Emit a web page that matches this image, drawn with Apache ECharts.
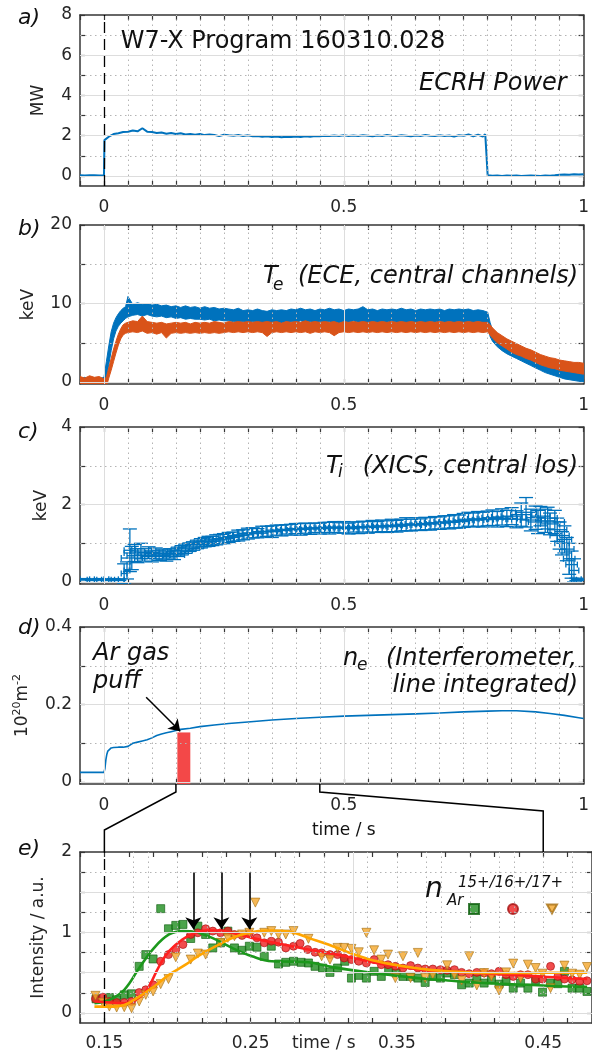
<!DOCTYPE html>
<html>
<head>
<meta charset="utf-8">
<script src="https://cdn.jsdelivr.net/npm/echarts@6/dist/echarts.min.js"></script>
<style>
  html, body { margin: 0; padding: 0; background: #ffffff; }
  #chart { width: 592px; height: 1058px; }
</style>
</head>
<body>
<div id="chart"></div>
<script>
// ---------------- a) ECRH heating power (MW) ----------------
const pwrTime = [-0.05,-0.04,-0.03,-0.02,-0.01,0,0.001,0.005,0.01,0.015,0.02,
  0.03,0.04,0.05,0.06,0.07,0.08,0.09,0.1,0.11,0.12,0.13,0.14,0.15,0.16,0.17,0.18,0.19,0.2,0.21,0.22,
  0.23,0.24,0.25,0.26,0.27,0.28,0.29,0.3,0.31,0.32,0.33,0.34,0.35,0.36,0.37,0.38,0.39,0.4,0.41,0.42,
  0.43,0.44,0.45,0.46,0.47,0.48,0.49,0.5,0.51,0.52,0.53,0.54,0.55,0.56,0.57,0.58,0.59,0.6,0.61,0.62,
  0.63,0.64,0.65,0.66,0.67,0.68,0.69,0.7,0.71,0.72,0.73,0.74,0.75,0.76,0.77,0.78,0.79,0.795,0.799,
  0.8,0.81,0.82,0.83,0.84,0.85,0.86,0.87,0.88,0.89,0.9,0.91,0.92,0.93,0.94,0.95,0.96,0.97,0.98,0.99,1];
const pwrValue = [0.03,0.02,0.04,0.03,0.02,0.03,1.78,1.86,1.95,2.02,2.08,
  2.12,2.18,2.2,2.26,2.22,2.37,2.2,2.18,2.14,2.16,2.1,2.13,2.09,2.12,2.06,2.08,2.05,2.09,2.03,2.06,
  2.04,1.98,2.05,2.02,2.0,2.03,1.99,2.02,1.97,1.99,1.95,1.97,1.93,1.96,1.92,1.95,1.93,1.96,1.94,1.97,
  1.95,1.99,1.97,2.0,1.98,2.01,1.99,2.02,1.99,2.01,1.98,2.02,2.0,1.97,2.01,1.99,2.03,2.0,1.98,2.02,
  2.0,1.97,2.01,1.99,2.03,2.0,1.98,2.02,1.99,2.01,1.96,2.02,2.0,2.06,1.97,2.05,1.96,2.07,2.0,
  0.03,0.01,0.02,0.0,0.02,0.01,0.02,0.0,0.01,0.02,0.01,0.0,0.02,0.01,0.03,0.06,0.07,0.06,0.08,0.07,0.08];

// ---------------- b) electron temperature, ECE central channels (keV) ----------------
const teTime = [-0.05,-0.04,-0.03,-0.02,-0.01,0,0.005,0.01,0.015,0.02,0.025,0.03,0.035,0.04,0.045,
  0.05,0.06,0.07,0.08,0.09,0.1,0.11,0.12,0.13,0.14,0.15,0.16,0.17,0.18,0.19,0.2,0.21,0.22,0.23,0.24,
  0.25,0.26,0.27,0.28,0.29,0.3,0.31,0.32,0.33,0.34,0.35,0.36,0.37,0.38,0.39,0.4,0.41,0.42,0.43,0.44,
  0.45,0.46,0.47,0.48,0.49,0.5,0.51,0.52,0.53,0.54,0.55,0.56,0.57,0.58,0.59,0.6,0.61,0.62,0.63,0.64,
  0.65,0.66,0.67,0.68,0.69,0.7,0.71,0.72,0.73,0.74,0.75,0.76,0.77,0.78,0.79,0.8,0.805,
  0.81,0.82,0.83,0.84,0.85,0.86,0.87,0.88,0.89,0.9,0.91,0.92,0.93,0.94,0.95,0.96,0.97,0.98,0.99,1];
const teBlueHigh = [0.4,0.6,0.3,0.5,0.4,0.6,2.6,4.6,6.4,7.5,8.2,8.7,9.1,9.4,9.6,
  10.9,9.9,10.1,9.9,10.0,9.8,9.9,9.7,9.8,9.6,9.7,9.5,9.7,9.5,9.6,9.4,9.6,9.4,9.5,9.3,
  9.4,9.3,9.2,9.4,9.1,9.2,9.1,9.3,9.1,9.0,9.2,9.1,9.2,9.1,9.3,9.2,9.4,9.2,9.3,9.1,
  9.3,9.2,9.4,9.2,9.3,9.1,9.3,9.2,9.3,9.6,9.2,9.3,9.1,9.3,9.2,9.3,9.2,9.4,9.2,9.3,
  9.1,9.3,9.2,9.3,9.2,9.3,9.1,9.3,9.2,9.3,9.2,9.3,9.1,9.2,9.1,8.9,7.6,
  6.6,5.8,5.3,4.9,4.6,4.3,4.0,3.7,3.4,3.1,2.8,2.6,2.4,2.2,2.0,1.9,1.7,1.6,1.5,1.4];
const teBlueLow = [-0.2,-0.3,-0.2,-0.3,-0.2,-0.1,0.6,2.2,4.0,5.5,6.5,7.1,7.5,7.8,8.1,
  8.3,8.5,8.6,8.4,8.6,8.4,8.3,8.4,8.2,8.3,8.1,8.2,8.0,8.1,8.0,8.0,7.9,8.0,7.8,7.9,
  7.8,7.8,7.7,7.6,7.7,7.5,7.7,7.6,7.4,7.6,7.5,7.6,7.5,7.7,7.7,7.6,7.8,7.6,7.7,7.5,
  7.7,7.6,7.7,7.4,7.5,7.7,7.6,7.8,7.6,7.7,7.5,7.7,7.6,7.7,7.6,7.8,7.6,7.7,7.3,7.7,
  7.6,7.7,7.5,7.7,7.6,7.8,7.6,7.7,7.6,7.7,7.5,7.7,7.6,7.7,7.6,7.5,5.8,
  5.2,4.5,4.0,3.6,3.3,3.0,2.7,2.4,2.1,1.8,1.5,1.2,1.0,0.8,0.6,0.4,0.3,0.2,0.1,0.0];
const teOrangeHigh = [0.7,0.5,0.8,0.6,0.7,0.4,0.6,1.8,3.0,4.2,5.2,6.1,6.8,7.3,7.5,
  7.6,7.8,7.7,8.4,7.7,7.6,7.5,7.6,7.4,7.5,7.6,7.5,7.6,7.4,7.6,7.5,7.6,7.5,7.7,7.6,
  7.5,7.7,7.6,7.7,7.6,7.7,7.6,7.7,7.6,7.7,7.6,7.7,7.5,7.7,7.6,7.7,7.6,7.8,7.6,7.7,
  7.6,7.7,7.6,7.7,7.5,7.7,7.6,7.7,7.6,7.7,7.6,7.7,7.6,7.7,7.6,7.7,7.6,7.7,7.6,7.7,
  7.6,7.7,7.6,7.7,7.6,7.7,7.6,7.7,7.6,7.7,7.6,7.7,7.6,7.7,7.6,7.6,7.3,
  6.9,6.3,5.9,5.5,5.2,4.9,4.6,4.3,4.1,3.8,3.5,3.3,3.1,3.0,2.8,2.7,2.6,2.5,2.5,2.4];
const teOrangeLow = [-0.6,-0.8,-0.5,-0.7,-0.6,-0.9,-0.6,0.5,1.5,2.6,3.7,4.7,5.5,6.0,6.2,
  6.3,6.4,6.3,6.5,6.2,6.3,6.1,6.3,5.6,6.2,6.3,6.2,6.3,6.2,6.3,6.2,6.3,6.2,6.3,6.2,
  6.3,6.4,6.3,6.4,6.3,6.4,6.3,6.4,6.3,5.8,6.3,6.4,6.3,6.4,6.3,6.4,6.3,6.4,6.2,6.4,
  6.3,6.4,6.3,5.9,6.3,6.4,6.3,6.4,6.3,6.4,6.3,6.4,6.3,6.4,6.3,6.4,6.3,6.4,6.3,6.4,
  6.3,6.4,6.3,6.4,6.3,6.4,6.3,6.4,6.3,6.4,6.3,6.4,6.3,6.4,6.3,6.4,6.0,
  5.6,5.0,4.6,4.2,3.8,3.5,3.3,3.0,2.8,2.5,2.2,2.0,1.8,1.7,1.5,1.4,1.3,1.2,1.1,1.0];

// ---------------- c) ion temperature, XICS central line of sight (keV) ----------------
const tiTime = [-0.04,-0.025,-0.01,0.005,0.02,0.032,0.042,0.048,0.054,
  0.058,0.064,0.07,0.077,0.085,0.093,0.1,0.108,0.115,0.123,0.13,0.138,0.146,0.154,0.162,0.17,0.178,0.186,0.194,
  0.202,0.21,0.218,0.226,0.234,0.242,0.25,
  0.26,0.27,0.28,0.29,0.3,0.31,0.32,0.33,0.34,0.35,0.36,0.37,0.38,0.39,0.4,0.41,0.42,0.43,0.44,0.45,
  0.46,0.47,0.48,0.49,0.5,0.51,0.52,0.53,0.54,0.55,0.56,0.57,0.58,0.59,0.6,0.61,0.62,0.63,0.64,0.65,
  0.66,0.67,0.68,0.69,0.7,0.71,0.72,0.73,0.74,0.75,0.76,0.77,0.78,0.79,
  0.8,0.81,0.82,0.83,0.84,0.85,0.86,0.87,0.88,0.89,
  0.9,0.905,0.91,0.92,0.925,0.93,0.94,0.945,0.95,0.955,0.96,0.965,0.97,0.975,0.98,0.985,0.995];
const tiValue = [0.07,0.06,0.07,0.06,0.07,0.06,0.22,0.3,0.82,
  0.62,0.75,0.68,0.8,0.7,0.76,0.66,0.74,0.69,0.72,0.66,0.74,0.7,0.78,0.82,0.86,0.9,0.93,0.97,
  1.0,1.03,1.05,1.06,1.09,1.11,1.12,
  1.15,1.17,1.2,1.22,1.25,1.27,1.26,1.3,1.31,1.3,1.34,1.33,1.36,1.35,1.38,1.36,1.39,1.37,1.4,1.38,
  1.41,1.39,1.42,1.4,1.41,1.38,1.42,1.4,1.43,1.41,1.44,1.42,1.45,1.43,1.46,1.44,1.47,1.49,1.47,1.5,
  1.48,1.51,1.5,1.53,1.52,1.55,1.54,1.57,1.56,1.59,1.62,1.6,1.63,1.61,
  1.64,1.66,1.62,1.68,1.64,1.7,1.62,1.74,1.8,1.6,
  1.66,1.55,1.7,1.58,1.65,1.5,1.55,1.35,1.2,1.0,1.1,0.85,0.6,0.45,0.3,0.07,0.06];
const tiErr = [0.02,0.02,0.02,0.02,0.02,0.02,0.25,0.22,0.55,
  0.3,0.22,0.18,0.2,0.16,0.15,0.14,0.14,0.13,0.13,0.12,0.12,0.12,0.12,0.12,0.12,0.11,0.11,0.11,
  0.12,0.12,0.13,0.12,0.13,0.12,0.13,
  0.13,0.12,0.14,0.13,0.14,0.13,0.12,0.14,0.13,0.15,0.13,0.14,0.12,0.14,0.13,0.15,0.13,0.14,0.12,0.14,
  0.13,0.15,0.14,0.13,0.15,0.14,0.13,0.15,0.14,0.15,0.15,0.14,0.15,0.15,0.16,0.15,0.15,0.17,0.15,0.16,
  0.15,0.16,0.16,0.16,0.16,0.16,0.17,0.17,0.17,0.18,0.18,0.18,0.19,0.19,
  0.19,0.2,0.2,0.21,0.21,0.22,0.22,0.3,0.38,0.28,
  0.3,0.3,0.25,0.3,0.28,0.28,0.3,0.3,0.35,0.3,0.35,0.3,0.4,0.35,0.3,0.03,0.02];
const tiTimeErr = [0.01,0.01,0.01,0.01,0.01,0.01,0.006,0.006,0.012,
  0.022,0.022,0.022,0.022,0.022,0.022,0.022,0.022,0.022,0.022,0.022,0.022,0.022,0.022,0.022,0.022,0.022,0.022,0.022,
  0.022,0.022,0.022,0.022,0.022,0.022,0.022,
  0.022,0.022,0.022,0.022,0.022,0.022,0.022,0.022,0.022,0.022,0.022,0.022,0.022,0.022,0.022,0.022,0.022,0.022,0.022,0.022,
  0.022,0.022,0.022,0.022,0.022,0.022,0.022,0.022,0.022,0.022,0.022,0.022,0.022,0.022,0.022,0.022,0.022,0.022,0.022,0.022,
  0.022,0.022,0.022,0.022,0.022,0.022,0.022,0.022,0.022,0.022,0.022,0.022,0.022,0.022,
  0.022,0.022,0.022,0.022,0.022,0.022,0.022,0.022,0.022,0.022,
  0.02,0.02,0.02,0.02,0.02,0.02,0.02,0.02,0.02,0.015,0.015,0.015,0.012,0.012,0.01,0.01,0.01];

// ---------------- d) line-integrated electron density (1e20 m^-2) ----------------
const neTime = [-0.05,-0.03,-0.01,0,0.002,0.004,0.006,0.008,0.01,0.015,0.02,0.03,0.04,0.05,0.055,0.06,
  0.07,0.08,0.09,0.1,0.11,0.12,0.13,0.14,0.15,0.16,0.18,0.2,0.23,0.26,0.3,0.35,0.4,0.45,0.5,0.55,0.6,
  0.65,0.7,0.75,0.8,0.83,0.86,0.9,0.93,0.96,0.99,1.0];
const neValue = [0.025,0.025,0.025,0.025,0.035,0.058,0.072,0.08,0.084,0.088,0.089,0.09,0.09,0.092,0.096,0.1,
  0.103,0.106,0.109,0.114,0.12,0.124,0.127,0.13,0.133,0.136,0.139,0.143,0.147,0.151,0.155,0.16,0.164,0.167,0.17,0.172,0.174,
  0.176,0.178,0.181,0.183,0.184,0.184,0.181,0.177,0.172,0.166,0.164];
const puffWindow = [0.153, 0.18];     // Ar gas valve open (s)
const puffLevel = 0.128;              // drawn height of the puff marker
const puffArrowFrom = [0.088, 0.219];
const puffArrowTo = [0.159, 0.131];
const zoomWindow = [0.15, 0.45];      // time range enlarged in panel e

// ---------------- e) Ar ion line intensities (a.u.) ----------------
const ar15Time = [0.1443,0.1534,0.1584,0.1636,0.1686,0.1738,0.1783,0.1833,0.1885,0.1938,0.1988,0.2037,0.209,0.2139,
  0.2192,0.2241,0.2294,0.2344,0.2389,0.2441,0.2491,0.2543,0.2593,0.2641,0.269,0.274,0.2793,
  0.2845,0.2895,0.294,0.2992,0.3042,0.3094,0.3143,0.3189,0.3239,0.3291,0.3344,0.3393,0.3443,0.3495,0.3541,
  0.3593,0.3643,0.3693,0.3745,0.3797,0.3843,0.3893,0.3942,0.3994,0.4046,0.4096,0.4146,0.4198,0.4246,0.4295,
  0.4345,0.4395,0.4448,0.4495,0.455,0.46,0.4645,0.4697,0.4749,0.4799];
const ar15Value = [0.175,0.192,0.163,0.225,0.238,0.579,0.725,0.671,1.296,1.046,1.088,1.1,0.925,1.079,
  0.975,0.808,0.871,1.017,0.808,0.779,0.829,0.817,0.704,0.829,0.608,0.629,0.642,
  0.629,0.621,0.579,0.558,0.504,0.558,0.642,0.433,0.467,0.433,0.517,0.454,0.538,0.496,0.454,
  0.454,0.433,0.379,0.454,0.433,0.496,0.475,0.35,0.371,0.421,0.371,0.413,0.358,0.392,0.308,
  0.371,0.308,0.413,0.258,0.371,0.363,0.517,0.308,0.308,0.267];
const ar16Time = [0.1439,0.1489,0.1534,0.1584,0.1636,0.1686,0.1738,0.1783,0.1833,0.1885,0.1938,0.1988,0.2037,0.209,
  0.2139,0.2192,0.2241,0.2294,0.2344,0.2389,0.2441,0.2491,0.2543,0.2593,0.2641,0.269,0.274,0.2793,
  0.2838,0.289,0.294,0.2985,0.3042,0.3094,0.3139,0.3189,0.3239,0.3291,0.3344,0.3393,0.3439,0.3489,0.3541,
  0.3593,0.3643,0.3693,0.3745,0.3797,0.3843,0.3893,0.3942,0.3994,0.4046,0.4096,0.4146,0.4198,0.4246,0.4295,
  0.4345,0.4395,0.4448,0.4495,0.455,0.46,0.4645,0.4697,0.4749,0.4799];
const ar16Value = [0.175,0.196,0.142,0.129,0.129,0.142,0.254,0.288,0.35,0.642,0.725,0.788,0.85,0.975,
  0.996,1.046,1.017,0.996,1.017,0.975,0.963,0.988,0.933,0.871,0.892,0.879,0.808,0.829,
  0.863,0.788,0.754,0.746,0.725,0.725,0.683,0.663,0.642,0.621,0.663,0.6,0.6,0.579,0.558,
  0.588,0.558,0.546,0.546,0.538,0.529,0.538,0.504,0.488,0.504,0.496,0.488,0.517,0.475,0.454,
  0.475,0.475,0.421,0.421,0.579,0.454,0.421,0.413,0.392,0.4];
const ar17Time = [0.1439,0.1489,0.1534,0.1584,0.1636,0.1686,0.1738,0.1783,0.1833,0.1885,0.1938,0.1988,0.209,
  0.2139,0.2192,0.2294,0.2344,0.2389,0.2441,0.2491,0.2532,0.2593,0.2641,0.269,0.274,0.2793,
  0.2895,0.2985,0.3042,0.3094,0.3139,0.3189,0.3239,0.3291,0.3344,0.3393,0.3439,0.3489,0.3541,0.3593,0.3643,
  0.3693,0.3745,0.3843,0.3893,0.3942,0.3994,0.4046,0.4096,0.4146,0.4198,0.4246,0.4295,0.4345,0.4395,0.4448,
  0.4495,0.455,0.4645,0.4697,0.4749,0.4799];
const ar17Value = [0.213,0.129,0.079,0.067,0.071,0.058,0.142,0.225,0.267,0.358,0.421,0.692,0.663,
  0.738,0.725,0.871,0.933,0.954,0.975,0.996,1.371,0.996,1.017,0.975,0.975,1.017,
  0.921,0.704,0.663,0.808,0.808,0.796,0.754,0.996,0.779,0.663,0.725,0.433,0.704,0.433,0.746,
  0.433,0.475,0.592,0.475,0.404,0.704,0.342,0.496,0.454,0.279,0.504,0.613,0.433,0.6,0.558,
  0.488,0.308,0.588,0.488,0.475,0.571];
const fit15Time = [0.1432,0.1534,0.1636,0.1738,0.184,0.1942,0.2037,0.2124,0.2237,0.2373,0.2509,0.2645,0.2781,
  0.2895,0.3031,0.3167,0.3303,0.3439,0.3576,0.3712,0.3848,0.3984,0.412,0.4256,0.4392,0.4528,0.4664,0.48];
const fit15Value = [0.12,0.163,0.288,0.558,0.808,0.975,1.017,1.004,0.933,0.808,0.704,0.642,0.638,
  0.629,0.579,0.538,0.504,0.475,0.446,0.421,0.404,0.383,0.371,0.358,0.35,0.338,0.329,0.325];
const fit16Time = [0.1432,0.1534,0.1636,0.1693,0.1783,0.1874,0.1942,0.2033,0.2124,0.2192,0.2282,0.2373,0.2509,
  0.2645,0.2781,0.2895,0.3031,0.3167,0.3303,0.3439,0.3576,0.3712,0.3848,0.3984,0.412,0.4256,0.4392,0.4528,0.4664,0.48];
const fit16Value = [0.142,0.129,0.121,0.142,0.267,0.579,0.767,0.913,0.996,1.025,1.025,0.996,0.933,
  0.879,0.829,0.788,0.746,0.696,0.642,0.592,0.558,0.529,0.517,0.504,0.488,0.475,0.463,0.446,0.433,0.421];
const fit17Time = [0.1432,0.1534,0.1636,0.1738,0.184,0.1942,0.2055,0.2146,0.2282,0.2418,0.2554,0.2645,0.2781,
  0.2895,0.3031,0.3167,0.3303,0.3439,0.3576,0.3712,0.3848,0.3984,0.412,0.4256,0.4392,0.4528,0.4664,0.48];
const fit17Value = [0.079,0.079,0.1,0.204,0.329,0.475,0.6,0.713,0.85,0.963,1.017,1.025,1.004,
  0.933,0.85,0.754,0.671,0.613,0.571,0.538,0.517,0.504,0.496,0.496,0.496,0.5,0.5,0.5];
const peakArrowTimes = [0.2108, 0.23, 0.2491];
const peakArrowSpan = [1.746, 1.04];

// ---------------- axis ticks and labels ----------------
const timeTicks = [-0.05,0,0.05,0.1,0.15,0.2,0.25,0.3,0.35,0.4,0.45,0.5,0.55,0.6,0.65,0.7,0.75,0.8,0.85,0.9,0.95,1];
const timeLabels = [0, 0.5, 1];
const timeMajor = [0, 0.5];
const eTickStep = 1 / 60;
const eTicks = [];
for (let k = 8; k <= 29; k++) eTicks.push(k * eTickStep);
const eLabels = [0.15, 0.25, 0.3, 0.35, 0.45];
const eMajor = [19 * eTickStep];

const pwrTicks = [0,1,2,3,4,5,6,7,8],   pwrLabels = [0,2,4,6,8];
const teTicks = [0,5,10,15,20],          teLabels = [0,10,20];
const tiTicks = [0,1,2,3,4],             tiLabels = [0,2,4];
const neTicks = [0,0.1,0.2,0.3,0.4],     neLabels = [0,0.2,0.4];
const arTicks = [0,0.25,0.5,0.75,1,1.25,1.5,1.75,2], arLabels = [0,1,2];

// ---------------- styling ----------------
const FONT = 'DejaVu Sans';
const AXIS_COLOR = '#363636';
const TEXT = '#262626';
const BLUE = '#0072BD', ORANGE = '#D95319';
const GRIDS = [
  {top: 15,  height: 171, ymin: -0.5,   ymax: 8},
  {top: 225, height: 159, ymin: -0.25,  ymax: 20},
  {top: 427, height: 157, ymin: -0.05,  ymax: 4},
  {top: 627, height: 157, ymin: -0.005, ymax: 0.4},
  {top: 852, height: 171, ymin: -0.125, ymax: 2}
];

const pairs = (xs, ys) => xs.map((x, i) => [x, ys[i]]);
const near = (a, b) => Math.abs(a - b) < 1e-9;

function xAxisPair(gi, min, max, ticks, labels, fmt, margin) {
  const mk = (pos) => ({
    type: 'value', gridIndex: gi, position: pos, min: min, max: max,
    axisLine: {show: true, onZero: false, lineStyle: {color: AXIS_COLOR, width: 1.5}},
    axisTick: {show: true, inside: true, length: 5, customValues: ticks, lineStyle: {color: AXIS_COLOR, width: 1.2}},
    axisLabel: pos === 'bottom'
      ? {show: true, customValues: labels, formatter: fmt, margin: margin, color: TEXT, fontFamily: FONT, fontSize: 17}
      : {show: false},
    splitLine: {show: false}
  });
  return [mk('bottom'), mk('top')];
}

function yAxisPair(gi, ticks, labels, name, gap, rich) {
  const g = GRIDS[gi];
  const mk = (pos) => ({
    type: 'value', gridIndex: gi, position: pos, min: g.ymin, max: g.ymax,
    axisLine: {show: true, onZero: false, lineStyle: {color: AXIS_COLOR, width: 1.5}},
    axisTick: {show: true, inside: true, length: 5, customValues: ticks, lineStyle: {color: AXIS_COLOR, width: 1.2}},
    axisLabel: pos === 'left'
      ? {show: true, customValues: labels, margin: 8, color: TEXT, fontFamily: FONT, fontSize: 17}
      : {show: false},
    splitLine: {show: false},
    name: pos === 'left' ? name : '',
    nameLocation: 'middle', nameGap: gap,
    nameTextStyle: {color: TEXT, fontFamily: FONT, fontSize: 17, rich: rich}
  });
  return [mk('left'), mk('right')];
}

// grid lines (dotted minor, solid major) plus optional reference lines, drawn below the data
function gridLineSeries(gi, xMinor, xMajor, yMinor, yMajor, extra) {
  const dotted = () => ({color: '#b4b4b4', width: 1, type: [1.5, 3.5]});
  const solid = () => ({color: '#dddddd', width: 1, type: 'solid'});
  const data = [];
  xMinor.forEach(v => data.push({xAxis: v, lineStyle: dotted()}));
  yMinor.forEach(v => data.push({yAxis: v, lineStyle: dotted()}));
  xMajor.forEach(v => data.push({xAxis: v, lineStyle: solid()}));
  yMajor.forEach(v => data.push({yAxis: v, lineStyle: solid()}));
  (extra || []).forEach(d => data.push(d));
  return {
    type: 'line', xAxisIndex: 2 * gi, yAxisIndex: 2 * gi, data: [], z: 1, silent: true,
    markLine: {silent: true, symbol: 'none', animation: false, label: {show: false}, data: data}
  };
}

const timeMinor = timeTicks.filter(v => !near(v, -0.05) && !near(v, 1) && !timeMajor.some(m => near(m, v)));
const eMinor = eTicks.filter((v, i) => i > 1 && i < eTicks.length - 1 && !eMajor.some(m => near(m, v)));
const dashedRef = (v) => ({xAxis: v, lineStyle: {color: '#000000', width: 1.3, type: [11, 6]}});

const fmtTime = v => String(Math.round(v * 100) / 100);
const fmtE = v => near(v, 0.3) ? 'time / s' : v.toFixed(2);

const xAxes = [].concat(
  xAxisPair(0, -0.05, 1, timeTicks, timeLabels, fmtTime, 13),
  xAxisPair(1, -0.05, 1, timeTicks, timeLabels, fmtTime, 13),
  xAxisPair(2, -0.05, 1, timeTicks, timeLabels, fmtTime, 13),
  xAxisPair(3, -0.05, 1, timeTicks, timeLabels, fmtTime, 13),
  xAxisPair(4, 8 * eTickStep, 29 * eTickStep, eTicks, eLabels, fmtE, 12)
);
const yAxes = [].concat(
  yAxisPair(0, pwrTicks, pwrLabels, 'MW', 33),
  yAxisPair(1, teTicks, teLabels, 'keV', 43),
  yAxisPair(2, tiTicks, tiLabels, 'keV', 30),
  yAxisPair(3, neTicks, neLabels, '{n|10}{s|20}{n|m}{s|-2}', 46,
    {n: {fontSize: 17, fontFamily: FONT, color: TEXT, lineHeight: 22},
     s: {fontSize: 11, fontFamily: FONT, color: TEXT, lineHeight: 12, verticalAlign: 'top'}}),
  yAxisPair(4, arTicks, arLabels, 'Intensity / a.u.', 33)
);

const yLines = [
  {major: [0,2,4,6],            minor: [1,3,5,7]},
  {major: [0,10],               minor: [5,15]},
  {major: [0,2],                minor: [1,3]},
  {major: [0,0.2],              minor: [0.1,0.3]},
  {major: [0,0.5,1,1.5],        minor: [0.25,0.75,1.25,1.75]}
];

// Ti error bars: horizontal (integration time) and vertical (uncertainty) with caps
const errorBarRender = (params, api) => {
  const t = api.value(0), v = api.value(1), e = api.value(2), dt = api.value(3);
  const c = api.coord([t, v]);
  const l = api.coord([t - dt, v]), r = api.coord([t + dt, v]);
  const lo = api.coord([t, v - e]), hi = api.coord([t, v + e]);
  const cap = 7, st = () => ({stroke: BLUE, lineWidth: 1.3});
  return {type: 'group', children: [
    {type: 'line', shape: {x1: l[0], y1: c[1], x2: r[0], y2: c[1]}, style: st()},
    {type: 'line', shape: {x1: l[0], y1: c[1] - 3, x2: l[0], y2: c[1] + 3}, style: st()},
    {type: 'line', shape: {x1: r[0], y1: c[1] - 3, x2: r[0], y2: c[1] + 3}, style: st()},
    {type: 'line', shape: {x1: c[0], y1: lo[1], x2: c[0], y2: hi[1]}, style: st()},
    {type: 'line', shape: {x1: c[0] - cap, y1: lo[1], x2: c[0] + cap, y2: lo[1]}, style: st()},
    {type: 'line', shape: {x1: c[0] - cap, y1: hi[1], x2: c[0] + cap, y2: hi[1]}, style: st()}
  ]};
};

// Te noise band: one polygon between the lower and upper envelope
function bandSeries(name, low, high, color) {
  return {
    type: 'custom', name: name, xAxisIndex: 2, yAxisIndex: 2, clip: true, z: 3, silent: true,
    data: teTime.map((t, i) => [t, low[i], high[i]]),
    renderItem: (params, api) => {
      if (params.dataIndex !== 0) return null;
      const upper = teTime.map((t, i) => api.coord([t, high[i]]));
      const lower = teTime.map((t, i) => api.coord([t, low[i]])).reverse();
      return {type: 'polygon', shape: {points: upper.concat(lower)},
              style: {fill: color, stroke: color, lineWidth: 1}};
    }
  };
}

const series = [
  // a
  gridLineSeries(0, timeMinor, [0.5], yLines[0].minor, yLines[0].major, [dashedRef(0)]),
  {type: 'line', name: 'ECRH', xAxisIndex: 0, yAxisIndex: 0, data: pairs(pwrTime, pwrValue), symbol: 'none', z: 3,
   lineStyle: {color: BLUE, width: 2}},
  // b
  gridLineSeries(1, timeMinor, timeMajor, yLines[1].minor, yLines[1].major),
  bandSeries('Te 1', teBlueLow, teBlueHigh, BLUE),
  bandSeries('Te 2', teOrangeLow, teOrangeHigh, ORANGE),
  // c
  gridLineSeries(2, timeMinor, timeMajor, yLines[2].minor, yLines[2].major),
  {type: 'custom', name: 'Ti', xAxisIndex: 4, yAxisIndex: 4, clip: true, z: 3, renderItem: errorBarRender,
   data: tiTime.map((t, i) => [t, tiValue[i], tiErr[i], tiTimeErr[i]])},
  // d
  gridLineSeries(3, timeMinor, timeMajor, yLines[3].minor, yLines[3].major),
  {type: 'line', name: 'ne', xAxisIndex: 6, yAxisIndex: 6, data: pairs(neTime, neValue), symbol: 'none', z: 3,
   lineStyle: {color: BLUE, width: 1.6},
   markArea: {silent: true, itemStyle: {color: '#f34848', opacity: 1},
     data: [[{coord: [puffWindow[0], GRIDS[3].ymin]}, {coord: [puffWindow[1], puffLevel]}]]}},
  {type: 'line', xAxisIndex: 6, yAxisIndex: 6, data: [], z: 5, silent: true,
   markLine: {silent: true, symbol: ['none', 'arrow'], symbolSize: 11, label: {show: false}, animation: false,
     lineStyle: {color: '#000000', width: 1.5, type: 'solid'},
     data: [[{coord: puffArrowFrom}, {coord: puffArrowTo}]]}},
  // e
  gridLineSeries(4, eMinor, eMajor, yLines[4].minor, yLines[4].major, [dashedRef(9 * eTickStep)]),
  {type: 'scatter', name: '15+', xAxisIndex: 8, yAxisIndex: 8, data: pairs(ar15Time, ar15Value), z: 3,
   symbol: 'rect', symbolSize: 8, itemStyle: {color: '#1f8d1f', borderColor: '#0e5e0e', borderWidth: 0.8}},
  {type: 'scatter', name: '16+', xAxisIndex: 8, yAxisIndex: 8, data: pairs(ar16Time, ar16Value), z: 3,
   symbol: 'circle', symbolSize: 8, itemStyle: {color: '#ee1f1f', borderColor: '#a31010', borderWidth: 0.8}},
  {type: 'scatter', name: '17+', xAxisIndex: 8, yAxisIndex: 8, data: pairs(ar17Time, ar17Value), z: 3,
   symbol: 'triangle', symbolRotate: 180, symbolSize: 9, itemStyle: {color: '#f4a62a', borderColor: '#a66f12', borderWidth: 0.8}},
  {type: 'line', name: 'fit15', xAxisIndex: 8, yAxisIndex: 8, data: pairs(fit15Time, fit15Value), symbol: 'none', smooth: 0.4, z: 4,
   lineStyle: {color: '#1c981c', width: 2.6}},
  {type: 'line', name: 'fit16', xAxisIndex: 8, yAxisIndex: 8, data: pairs(fit16Time, fit16Value), symbol: 'none', smooth: 0.4, z: 4,
   lineStyle: {color: '#ff2020', width: 2.6}},
  {type: 'line', name: 'fit17', xAxisIndex: 8, yAxisIndex: 8, data: pairs(fit17Time, fit17Value), symbol: 'none', smooth: 0.4, z: 4,
   lineStyle: {color: '#ffa500', width: 2.6}},
  {type: 'line', xAxisIndex: 8, yAxisIndex: 8, data: [], z: 5, silent: true,
   markLine: {silent: true, symbol: ['none', 'arrow'], symbolSize: 12, label: {show: false}, animation: false,
     lineStyle: {color: '#000000', width: 1.6, type: 'solid'},
     data: peakArrowTimes.map(t => [{coord: [t, peakArrowSpan[0]]}, {coord: [t, peakArrowSpan[1]]}])}}
];

const chart = echarts.init(document.getElementById('chart'), null, {renderer: 'canvas'});
chart.setOption({
  animation: false,
  backgroundColor: '#ffffff',
  textStyle: {fontFamily: FONT},
  grid: GRIDS.map(g => ({left: 80, width: 515, top: g.top, height: g.height, containLabel: false})),
  xAxis: xAxes,
  yAxis: yAxes,
  legend: {
    data: [{name: '15+', icon: 'rect'}, {name: '16+', icon: 'circle'}, {name: '17+', icon: 'path://M0,0L10,0L5,9Z'}],
    left: 463, top: 898, itemWidth: 10, itemHeight: 10, itemGap: 27, selectedMode: false,
    formatter: () => '', textStyle: {fontSize: 10}
  },
  series: series
});

// annotations: titles, panel letters and the zoom connectors between panels d and e
const txt = (x, y, text, size, align, italic) => ({
  type: 'text', x: x, y: y, silent: true, z: 10,
  style: {text: text, fill: '#111111', fontSize: size, fontFamily: FONT, fontStyle: italic ? 'italic' : 'normal',
          align: align, verticalAlign: 'middle', textAlign: align, textVerticalAlign: 'middle'}
});

const dPix = v => chart.convertToPixel({xAxisIndex: 6, yAxisIndex: 6}, v);
const ePix = v => chart.convertToPixel({xAxisIndex: 8, yAxisIndex: 8}, v);
const dL = dPix([zoomWindow[0], GRIDS[3].ymin]), dR = dPix([zoomWindow[1], GRIDS[3].ymin]);
const eL = ePix([zoomWindow[0], GRIDS[4].ymax]), eR = ePix([zoomWindow[1], GRIDS[4].ymax]);
const halfTime = dPix([0.5, GRIDS[3].ymin]);

const connector = pts => ({type: 'polyline', silent: true, z: 10, shape: {points: pts},
  style: {stroke: '#000000', lineWidth: 1.5, fill: null}});

chart.setOption({
  graphic: [
    txt(18, 18.4, 'a)', 22, 'left', true),
    txt(18, 229, 'b)', 22, 'left', true),
    txt(18, 432.4, 'c)', 22, 'left', true),
    txt(18, 628.4, 'd)', 22, 'left', true),
    txt(18, 849.4, 'e)', 22, 'left', true),
    txt(120.7, 41.7, 'W7-X Program 160310.028', 24, 'left', false),
    txt(566.7, 83.7, 'ECRH Power', 24, 'right', true),
    txt(263, 276.7, 'T', 24, 'left', true),
    txt(273, 286, 'e', 17, 'left', true),
    txt(578, 276.7, '(ECE, central channels)', 24, 'right', true),
    txt(326, 466.7, 'T', 24, 'left', true),
    txt(338, 473, 'i', 17, 'left', true),
    txt(578, 466.7, '(XICS, central los)', 24, 'right', true),
    txt(343, 658.7, 'n', 24, 'left', true),
    txt(357, 666, 'e', 17, 'left', true),
    txt(577, 658.7, '(Interferometer,', 24, 'right', true),
    txt(578, 685.7, 'line integrated)', 24, 'right', true),
    txt(93, 653.7, 'Ar gas', 24, 'left', true),
    txt(93, 681.7, 'puff', 24, 'left', true),
    txt(halfTime[0], 831, 'time / s', 17, 'center', false),
    txt(425, 890, 'n', 28, 'left', true),
    txt(447, 901, 'Ar', 15, 'left', true),
    txt(458, 883, '15+/16+/17+', 15, 'left', true),
    connector([dL, [dL[0], dL[1] + 8], [eL[0], eL[1] - 22], eL]),
    connector([dR, [dR[0], dR[1] + 8], [eR[0], eR[1] - 41], eR])
  ]
});
</script>
</body>
</html>
